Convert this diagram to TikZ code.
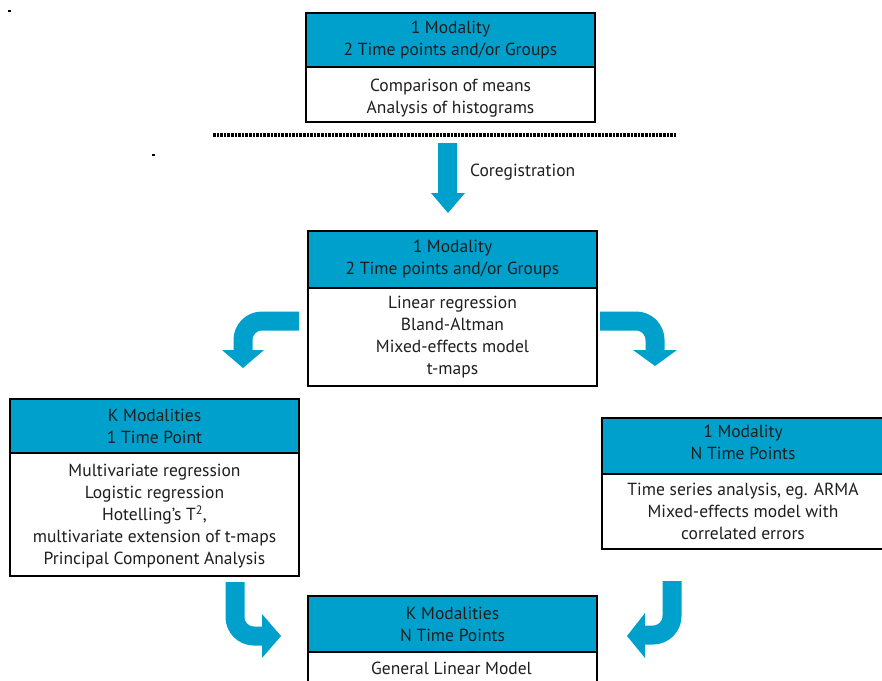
\documentclass[tikz,border=0pt]{standalone}
\usepackage{fontspec}
\setmainfont{PT Sans}
\definecolor{hdrblue}{RGB}{0,160,205}
\definecolor{txt}{RGB}{30,30,30}
\begin{document}
\begin{tikzpicture}[x=1pt,y=-1pt,
  every node/.style={text=txt, font=\fontsize{17.5}{22}\selectfont, align=center, inner sep=0pt},
  hdr/.style={draw=black, line width=2pt, fill=hdrblue, anchor=north west},
  bdy/.style={draw=black, line width=2pt, fill=white, anchor=north west},
  blockarrow/.style={draw=hdrblue, line width=19pt, rounded corners=19pt},
  arrowhead/.style={fill=hdrblue, draw=none}]
\useasboundingbox (0,0) rectangle (882,680);
\clip (0,0) rectangle (882,680);
% tiny marks
\fill[black] (8,10) rectangle (11,12);
\fill[black] (152,154) rectangle (155,156);
% box 1
\node[hdr, minimum width=289pt, minimum height=54pt] (h1) at (305,12) {1 Modality\\2 Time points and/or Groups};
\node[bdy, minimum width=289pt, minimum height=55pt] (b1) at (305,66) {};
\node (b1t) at ([yshift=-3.5pt]b1.center) {Comparison of means\\Analysis of histograms};
% dotted separator
\coordinate (sepL) at (213,135);
\coordinate (sepR) at (677,135);
\draw[line width=4pt, dash pattern=on 2.6pt off 1pt] (sepL) -- (sepR);
% down arrow
\fill[hdrblue] (438,143) -- (457,143) -- (457,193) -- (465,193) -- (448,213) -- (431,193) -- (438,193) -- cycle;
\node[anchor=west] (coreg) at (470,172) {Coregistration};
% box 2
\node[hdr, minimum width=289pt, minimum height=57pt] (h2) at (307,230) {1 Modality\\2 Time points and/or Groups};
\node[bdy, minimum width=289pt, minimum height=98pt] (b2) at (307,287) {Linear regression\\Bland-Altman\\Mixed-effects model\\t-maps};
% box 3
\node[hdr, minimum width=289pt, minimum height=55pt] (h3) at (9,398) {K Modalities\\1 Time Point};
\node[bdy, minimum width=289pt, minimum height=123pt] (b3) at (9,452) {};
\node (b3t) at ([yshift=-1.5pt]b3.center) {Multivariate regression\\Logistic regression\\Hotelling’s T\textsuperscript{2},\\multivariate extension of t-maps\\Principal Component Analysis};
% box 4
\node[hdr, minimum width=282pt, minimum height=56pt] (h4) at (601,417) {};
\node (h4t) at ([yshift=4pt]h4.center) {1 Modality\\N Time Points};
\node[bdy, minimum width=282pt, minimum height=75pt] (b4) at (601,473) {Time series analysis, eg. ARMA\\Mixed-effects model with\\correlated errors};
% box 5
\node[hdr, minimum width=289pt, minimum height=56pt] (h5) at (307,595) {K Modalities\\N Time Points};
\node[bdy, minimum width=289pt, minimum height=60pt] (b5) at (307,651) {};
\node (b5t) at (451.5,668) {General Linear Model};
% curved arrows
\draw[blockarrow] (299,321) -| (243,351);
\fill[arrowhead] (222,350) -- (264,350) -- (243,368) -- cycle;
\draw[blockarrow] (600,321) -| (655,351);
\fill[arrowhead] (633,350) -- (677,350) -- (655,366) -- cycle;
\draw[blockarrow] (235,582) |- (263,636);
\fill[arrowhead] (262,614) -- (262,658) -- (281,636) -- cycle;
\draw[blockarrow] (672,581) |- (644,635);
\fill[arrowhead] (645,613) -- (645,658) -- (627,636) -- cycle;
\end{tikzpicture}
\end{document}
